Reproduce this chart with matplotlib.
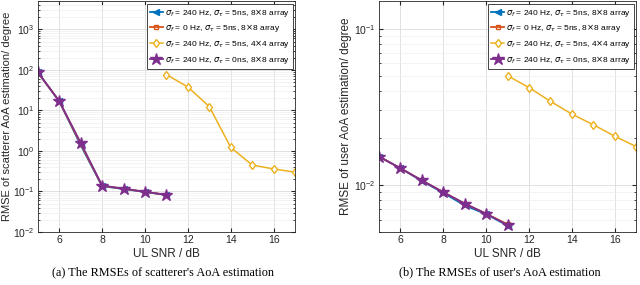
import matplotlib
matplotlib.use("Agg")
import matplotlib.pyplot as plt
from matplotlib.ticker import LogLocator, NullFormatter

plt.rcParams['font.family'] = ['Liberation Sans', 'DejaVu Sans']
plt.rcParams['mathtext.fontset'] = 'dejavusans'

# SNR values (dB)
snr_a = [5, 6, 7, 8, 9, 10, 11]
snr_b = [11, 12, 13, 14, 15, 16, 17]

# (a) scatterer AoA RMSE
sc_blue = [88, 17, 1.4, 0.135, 0.115, 0.097, 0.082]
sc_orange = [88, 17, 1.5, 0.138, 0.117, 0.098, 0.083]
sc_yellow = [77, 38, 12.5, 1.23, 0.45, 0.36, 0.30]
sc_purple = [88, 17, 1.6, 0.14, 0.118, 0.098, 0.083]

# (b) user AoA RMSE
us_blue = [0.0152, 0.0128, 0.0106, 0.0089, 0.0074, 0.0065, 0.0055]
us_orange = [0.0152, 0.0128, 0.0107, 0.0090, 0.0076, 0.00655, 0.0056]
us_yellow = [0.050, 0.042, 0.0343, 0.0284, 0.0243, 0.0205, 0.0176]
us_purple = [0.0152, 0.0128, 0.0107, 0.0090, 0.0076, 0.00655, 0.00555]

labels = [r'$\sigma_f$ = 240 Hz, $\sigma_\tau$ = 5ns, 8$\times$8 array',
          r'$\sigma_f$ = 0 Hz, $\sigma_\tau$ = 5ns, 8$\times$8 array',
          r'$\sigma_f$ = 240 Hz, $\sigma_\tau$ = 5ns, 4$\times$4 array',
          r'$\sigma_f$ = 240 Hz, $\sigma_\tau$ = 0ns, 8$\times$8 array']

blue, orange, yellow, purple = '#0072BD', '#D95319', '#EDB120', '#7E2F8E'

fig = plt.figure(figsize=(6.4, 2.85), dpi=100)
ax1 = fig.add_axes([0.059, 0.186, 0.402, 0.81])
ax2 = fig.add_axes([0.592, 0.186, 0.402, 0.81])


def draw(ax, b, o, y, p):
    ax.semilogy(snr_a, b, '-<', color=blue, lw=1.3, ms=5, label=labels[0])
    ax.semilogy(snr_a, o, '-s', color=orange, lw=1.3, ms=3.5, mfc='none', label=labels[1])
    ax.semilogy(snr_b, y, '-d', color=yellow, lw=1.1, ms=4.5, mfc='white', label=labels[2])
    ax.semilogy(snr_a, p, '-*', color=purple, lw=1.3, ms=9, label=labels[3])
    ax.set_xlim(5, 17)
    ax.set_xticks([6, 8, 10, 12, 14, 16])
    ax.grid(True, which='major', color='#dcdcdc', lw=0.6)
    ax.grid(True, which='minor', color='#efefef', lw=0.5)
    ax.tick_params(which='both', direction='in', top=True, right=True,
                   labelsize=7.5, colors='#262626', length=3, pad=2.5)
    ax.tick_params(which='minor', length=1.5)
    ax.yaxis.set_minor_locator(LogLocator(subs=range(2, 10), numticks=20))
    ax.yaxis.set_minor_formatter(NullFormatter())
    for s in ax.spines.values():
        s.set_color('#262626')
        s.set_linewidth(0.6)
    ax.set_xlabel('UL SNR / dB', fontsize=8.5, color='#262626', labelpad=2)
    leg = ax.legend(loc='upper right', fontsize=6, handlelength=1.6,
                    fancybox=False, edgecolor='#262626', borderpad=0.35,
                    labelspacing=0.45, handletextpad=0.2, framealpha=1,
                    borderaxespad=0.3)
    leg.get_frame().set_linewidth(0.6)


draw(ax1, sc_blue, sc_orange, sc_yellow, sc_purple)
ax1.set_ylim(1e-2, 5e3)
ax1.yaxis.set_major_locator(LogLocator(numticks=10))
ax1.set_ylabel('RMSE of scatterer AoA estimation/ degree', fontsize=8,
               color='#262626')
ax1.yaxis.set_label_coords(-0.1, 0.5)

draw(ax2, us_blue, us_orange, us_yellow, us_purple)
ax2.set_ylim(5e-3, 0.15)
ax2.set_ylabel('RMSE of user AoA estimation/ degree', fontsize=8.5,
               color='#262626')
ax2.yaxis.set_label_coords(-0.105, 0.5)

fig.text(0.255, 0.035, "(a) The RMSEs of scatterer's AoA estimation",
         ha='center', fontsize=8.8, family='Liberation Serif')
fig.text(0.781, 0.035, "(b) The RMSEs of user's AoA estimation",
         ha='center', fontsize=8.8, family='Liberation Serif')

fig.savefig('out.png', dpi=100)
